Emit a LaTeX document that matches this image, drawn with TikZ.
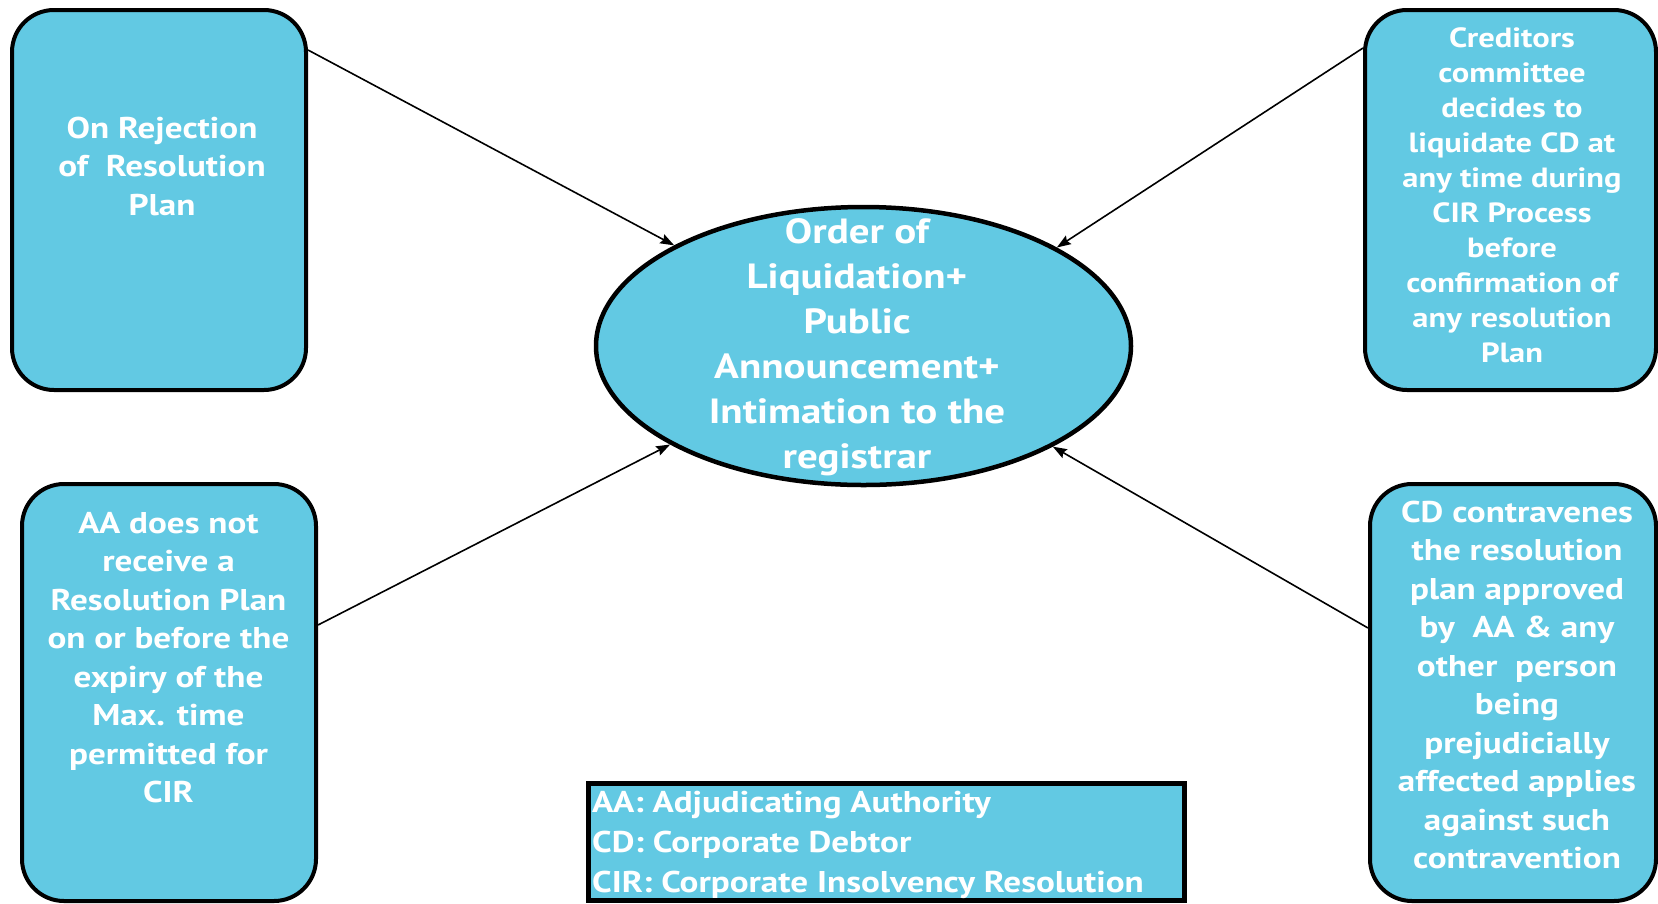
\documentclass[tikz,border=0pt]{standalone}
\usepackage{fontspec}
\setmainfont{PT Sans}[FakeStretch=1.17]
\usetikzlibrary{shapes.geometric,arrows.meta,calc}
\definecolor{boxfill}{HTML}{62C9E3}

\begin{document}
\begin{tikzpicture}[x=1pt,y=-1pt,
  card/.style={draw=black, line width=4pt, fill=boxfill, rounded corners=42pt, inner sep=0pt},
  cardtext/.style={text=white, inner sep=0pt, align=center,
    font=\bfseries\fontsize{30}{38.5}\selectfont},
  smalltext/.style={text=white, inner sep=0pt, align=center,
    font=\bfseries\fontsize{27.8}{35.1}\selectfont},
  hubtext/.style={text=white, inner sep=0pt, align=center,
    font=\bfseries\fontsize{35}{45}\selectfont},
  keytext/.style={text=white, inner sep=0pt, align=left, anchor=west,
    font=\bfseries\fontsize{30}{40}\selectfont},
  hub/.style={ellipse, draw=black, line width=4.5pt, fill=boxfill, inner sep=0pt},
  keybox/.style={rectangle, draw=black, line width=5pt, fill=boxfill, inner sep=0pt},
  feed/.style={draw=black, line width=1.6pt,
    -{Stealth[length=14pt, width=10pt, inset=2pt]}}
]
\fill[white] (0,0) rectangle (1658,903);
\useasboundingbox (0,0) rectangle (1658,903);

% central outcome
\node[hub, minimum width=535pt, minimum height=278pt] (hub) at (863.5,346) {};
\node[hubtext] (hubt) at (857,346.5) {\strut Order of\\Liquidation+\\Public\\Announcement+\\Intimation to the\\registrar\strut};

% triggering events
\node[card, minimum width=294pt, minimum height=380pt] (tl) at (159,200) {};
\node[cardtext] (tlt) at (162,168.8) {\strut On Rejection\\of~~Resolution\\Plan\strut};

\node[card, minimum width=291pt, minimum height=380pt] (tr) at (1510.5,200) {};
\node[smalltext] (trt) at (1512,198) {\strut Creditors\\committee\\decides to\\liquidate CD at\\any time during\\CIR Process\\before\\confirmation of\\any resolution\\Plan\strut};

\node[card, minimum width=294pt, minimum height=417pt] (bl) at (169,692.5) {};
\node[cardtext] (blt) at (168.5,660.3) {\strut AA does not\\receive a\\Resolution Plan\\on or before the\\expiry of the\\Max. time\\permitted for\\CIR\strut};

\node[card, minimum width=286pt, minimum height=417pt] (br) at (1513,692.5) {};
\node[cardtext] (brt) at (1517,687.8) {\strut CD contravenes\\the resolution\\plan approved\\by~~AA \& any\\other~~person\\being\\prejudicially\\affected applies\\against such\\contravention\strut};

% abbreviations
\node[keybox, minimum width=596pt, minimum height=116.5pt] (key) at (886.5,841.75) {};
\node[keytext] (keyt) at (592,844) {\strut AA: Adjudicating Authority\\CD: Corporate Debtor\\CIR: Corporate Insolvency Resolution\strut};

% connectors into the outcome
\draw[feed] ($(tl.north east)+(0,42)$) -- (hub.152.5);
\draw[feed] ($(tr.north west)+(0,40)$) -- (hub.27.5);
\draw[feed] ($(bl.north east)+(0,143)$) -- (hub.207.5);
\draw[feed] ($(br.north west)+(0,146)$) -- (hub.332.5);
\end{tikzpicture}
\end{document}
